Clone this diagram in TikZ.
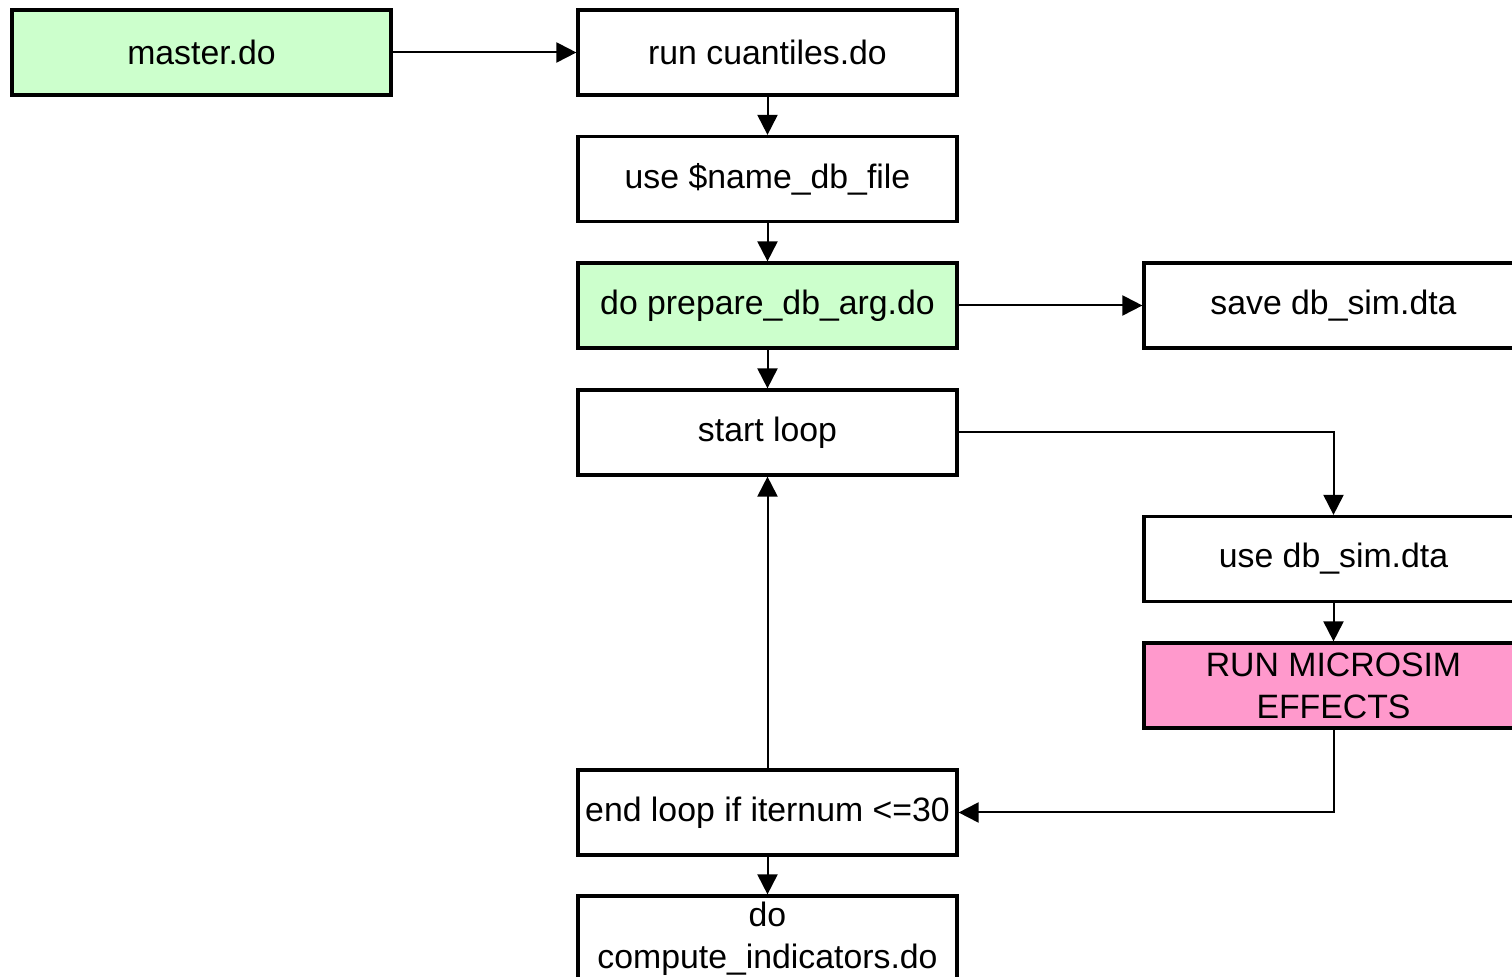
\documentclass[tikz,border=0pt]{standalone}
\usepackage{fontspec}
\setmainfont{Liberation Sans}
\usetikzlibrary{arrows.meta}
\definecolor{boxgreen}{HTML}{CCFFCC}
\definecolor{boxpink}{HTML}{FF99CC}
\tikzset{
  stepbox/.style={draw=black, line width=1.6pt, fill=white, minimum width=189.5pt, minimum height=42.5pt,
    inner sep=1pt, align=center, font=\fontsize{16.9}{21}\selectfont},
  greenbox/.style={stepbox, fill=boxgreen},
  pinkbox/.style={stepbox, fill=boxpink},
  conn/.style={line width=1pt, -{Triangle[length=10pt,width=10pt]}},
}
\begin{document}
\begin{tikzpicture}[x=0.5pt,y=0.5pt]
\useasboundingbox (0,0) rectangle (1512,-977);
\node[greenbox] (master) at (201.5,-52.5) {master.do};
\node[stepbox] (cuant) at (767.5,-52.5) {run cuantiles.do};
\node[stepbox] (usename) at (767.5,-179) {use \$name\_db\_file};
\node[greenbox] (prep) at (767.5,-305.5) {do prepare\_db\_arg.do};
\node[stepbox] (save) at (1333.5,-305.5) {save db\_sim.dta};
\node[stepbox] (start) at (767.5,-432.5) {start loop};
\node[stepbox] (usedb) at (1333.5,-559) {use db\_sim.dta};
\node[pinkbox] (run) at (1333.5,-685.5) {RUN MICROSIM\\EFFECTS};
\node[stepbox] (endl) at (767.5,-812.5) {end loop if iternum <=30};
\node[stepbox] (comp) at (767.5,-938.5) {do\\compute\_indicators.do};
\draw[conn] (master.east) -- (cuant.west);
\draw[conn] (cuant.south) -- (usename.north);
\draw[conn] (usename.south) -- (prep.north);
\draw[conn] (prep.east) -- (save.west);
\draw[conn] (prep.south) -- (start.north);
\draw[conn] (start.east) -| (usedb.north);
\draw[conn] (usedb.south) -- (run.north);
\draw[conn] (run.south) |- (endl.east);
\draw[conn] (endl.north) -- (start.south);
\draw[conn] (endl.south) -- (comp.north);
\end{tikzpicture}
\end{document}
